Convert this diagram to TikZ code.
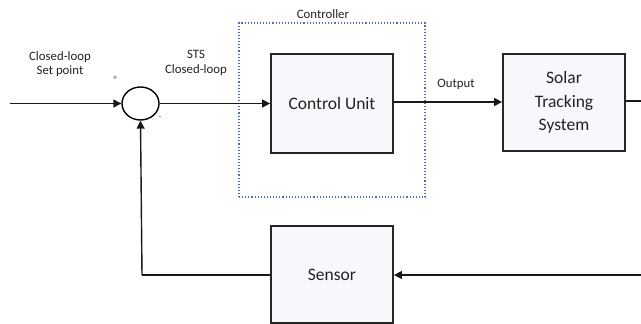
\documentclass[tikz,border=0pt]{standalone}
\usepackage{fontspec}
\setmainfont{Carlito}
\usetikzlibrary{arrows.meta,shapes.geometric}
\definecolor{boxfill}{HTML}{F6F8FC}
\definecolor{dotblue}{HTML}{4A6FBF}
\definecolor{txt}{HTML}{222222}
\begin{document}
\begin{tikzpicture}[x=1pt,y=-1pt,
  blockbox/.style={draw=black!85,line width=1.8pt,fill=boxfill,inner sep=0pt,text=txt,
    font=\fontsize{17.5}{23.5}\selectfont,align=center},
  small/.style={font=\fontsize{12.8}{14.5}\selectfont,text=txt,align=center,inner sep=0pt},
  sign/.style={font=\fontsize{9}{9}\selectfont,text=black!60,inner sep=0pt},
  conn/.style={line width=1.4pt,draw=black!90},
  arr/.style={conn,-{Triangle[length=8pt,width=8pt]}}]
\useasboundingbox (0,0) rectangle (641,324);
% controller dotted frame
\node[draw=dotblue,dotted,line width=1.1pt,minimum width=186pt,minimum height=174pt,inner sep=0pt] (ctrl) at (332,110) {};
\node[small] (ctrllbl) at (323,14) {Controller};
% blocks
\node[blockbox,minimum width=122pt,minimum height=99pt] (cu) at (332,103.5) {Control Unit};
\node[blockbox,minimum width=122pt,minimum height=97pt] (sts) at (564,102.5) {Solar\\Tracking\\System};
\node[blockbox,minimum width=122pt,minimum height=97pt] (sen) at (332,274.5) {Sensor};
% summing junction
\node[draw=black,line width=1.4pt,ellipse,minimum width=37pt,minimum height=33pt,inner sep=0pt] (sum) at (140.5,103.5) {};
% free ends
\coordinate (in) at (10,103.5);
\coordinate (outR) at (641,101);
\coordinate (fbR) at (641,275);
\coordinate (fbL) at (142,275);
% connectors
\draw[arr] (in) -- (sum.west);
\draw[arr] (sum.east) -- (cu.west |- sum.east);
\draw[arr] (cu.east |- 0,102) -- (sts.west |- 0,102);
\draw[conn] (sts.east |- outR) -- (outR);
\draw[arr] (fbR) -- (sen.east |- fbR);
\draw[conn] (sen.west |- fbL) -- (fbL);
\draw[arr] (fbL) -- (sum.south);
% labels
\node[small] (spl) at (60,64) {Closed-loop\\Set point};
\node[small] (stsl) at (196,63) {STS\\Closed-loop};
\node[small] (outl) at (456,84) {Output};
\node[sign] (plus) at (115,78) {+};
\node[sign] (minus) at (160,118) {-};
\end{tikzpicture}
\end{document}
